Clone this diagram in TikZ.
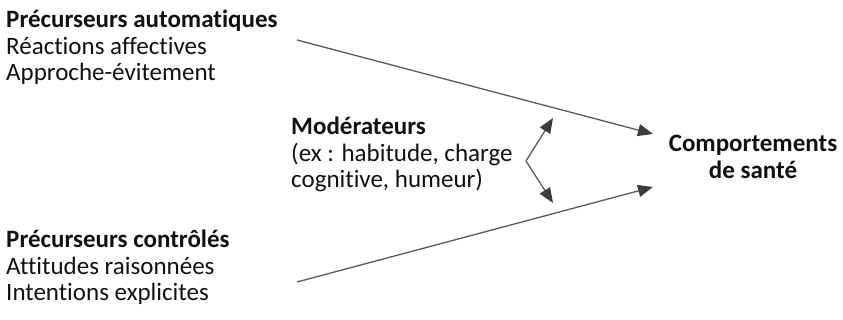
\documentclass[tikz,border=0pt]{standalone}
\usepackage{fontspec}
\setmainfont{Carlito}[Ligatures=NoCommon]
\usetikzlibrary{arrows.meta}
\definecolor{linegray}{HTML}{5A5A5A}
\definecolor{tipgray}{HTML}{3C3C3C}
\definecolor{txt}{HTML}{111111}
\begin{document}
\begin{tikzpicture}[x=1pt,y=1pt,
  lbl/.style={inner sep=0pt,text=txt,font=\fontsize{25}{26.5}\selectfont},
  conn/.style={draw=linegray,line width=1.3pt,
    -{Triangle[length=15pt,width=12pt,color=tipgray]}}]
\useasboundingbox (0,0) rectangle (843,320);
\node[lbl,anchor=base west] (auto) at (6,292)
  {\begin{tabular}[t]{@{}l@{}}\textbf{Précurseurs automatiques}\\Réactions affectives\\Approche-évitement\end{tabular}};
\node[lbl,anchor=base west] (ctrl) at (6,72)
  {\begin{tabular}[t]{@{}l@{}}\textbf{Précurseurs contrôlés}\\Attitudes raisonnées\\Intentions explicites\end{tabular}};
\node[lbl,anchor=base west] (mod) at (291,185)
  {\begin{tabular}[t]{@{}l@{}}\textbf{Modérateurs}\\(ex : habitude, charge\\cognitive, humeur)\end{tabular}};
\node[lbl,anchor=base] (comp) at (753,168)
  {\begin{tabular}[t]{@{}c@{}}\textbf{Comportements}\\\textbf{de santé}\end{tabular}};
\coordinate (autoEnd) at (297,280);
\coordinate (ctrlEnd) at (297,38);
\coordinate (compTop) at (653,186);
\coordinate (compBot) at (653,133);
\coordinate (modV) at (526,159);
\coordinate (modUp) at (553,202);
\coordinate (modDn) at (553,117);
\draw[conn] (autoEnd) -- (compTop);
\draw[conn] (ctrlEnd) -- (compBot);
\draw[conn] (modV) -- (modUp);
\draw[conn] (modV) -- (modDn);
\end{tikzpicture}
\end{document}
